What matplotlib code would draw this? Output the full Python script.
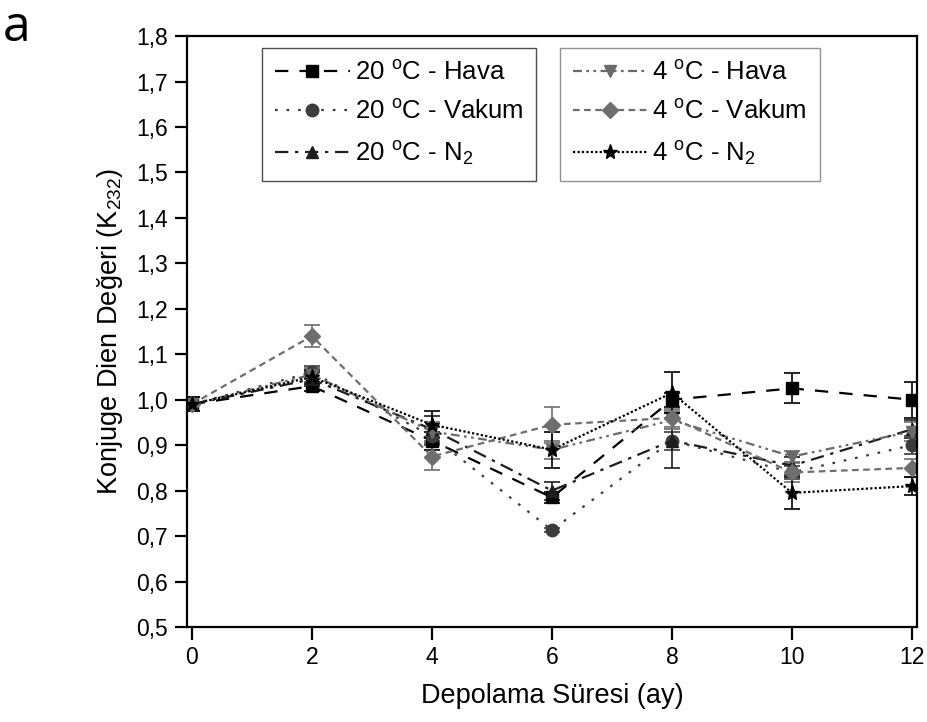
import numpy as np
import matplotlib.pyplot as plt
from matplotlib.lines import Line2D

plt.rcParams['font.family'] = ['Liberation Sans', 'DejaVu Sans']
plt.rcParams['mathtext.fontset'] = 'custom'
plt.rcParams['mathtext.rm'] = 'Liberation Sans'
plt.rcParams['mathtext.it'] = 'Liberation Sans'
plt.rcParams['mathtext.default'] = 'regular'

months = [0, 2, 4, 6, 8, 10, 12]

# 20 C series
h20 = [0.99, 1.03, 0.91, 0.785, 1.00, 1.025, 1.00]
h20_err = [0.015, 0.01, 0.02, 0.012, 0.015, 0.033, 0.04]
v20 = [0.99, 1.06, 0.92, 0.713, 0.91, 0.84, 0.90]
v20_err = [0.015, 0.015, 0.02, 0.005, 0.02, 0.015, 0.02]
n20 = [0.99, 1.045, 0.935, 0.80, 0.91, 0.855, 0.935]
n20_err = [0.015, 0.015, 0.03, 0.02, 0.06, 0.02, 0.02]

# 4 C series
h4 = [0.99, 1.055, 0.93, 0.89, 0.955, 0.875, 0.93]
h4_err = [0.015, 0.015, 0.02, 0.02, 0.02, 0.012, 0.02]
vk4 = [0.99, 1.14, 0.875, 0.945, 0.96, 0.84, 0.85]
vk4_err = [0.015, 0.025, 0.03, 0.04, 0.02, 0.02, 0.02]
n4 = [0.99, 1.05, 0.945, 0.89, 1.015, 0.795, 0.81]
n4_err = [0.015, 0.015, 0.03, 0.04, 0.045, 0.035, 0.02]

fig = plt.figure(figsize=(9.28, 7.22), dpi=100)
ax = fig.add_axes([0.2015, 0.1316, 0.7865, 0.8184])

handles = []
def series(y, e, label, color, ls, marker, ms=9):
    ax.errorbar(months, y, yerr=e, color=color, ls=ls, lw=1.6, marker=marker,
                ms=ms, mec=color, mfc=color, capsize=6, elinewidth=1.2,
                capthick=1.2)
    handles.append(Line2D([], [], color=color, ls=ls, lw=1.6, marker=marker,
                          ms=ms, mec=color, mfc=color, label=label))

deg = '$^{o}$C'
series(h20, h20_err, '20 ' + deg + ' - Hava', '#000000', (0, (6, 5)), 's', 8)
series(v20, v20_err, '20 ' + deg + ' - Vakum', '#3c3c3c', (0, (1.2, 4)), 'o')
series(n20, n20_err, '20 ' + deg + ' - N$_2$', '#1e1e1e', (0, (6, 3, 1.5, 3)), '^')
series(h4, h4_err, '4 ' + deg + ' - Hava', '#6a6a6a', (0, (4, 2, 1.2, 2, 1.2, 2)), 'v')
series(vk4, vk4_err, '4 ' + deg + ' - Vakum', '#6e6e6e', (0, (3, 2)), 'D', 8)
series(n4, n4_err, '4 ' + deg + ' - N$_2$', '#000000', (0, (1, 1)), '*', 11)

ax.set_xlim(-0.08, 12.08)
ax.set_ylim(0.5, 1.8)
ax.set_xticks(months)
yt = np.round(np.arange(0.5, 1.81, 0.1), 1)
ax.set_yticks(yt)
ax.set_yticklabels([('%.1f' % v).replace('.', ',') for v in yt])
ax.tick_params(labelsize=16.5, length=9, width=1.6, direction='out', pad=5)
for s in ax.spines.values():
    s.set_linewidth(1.6)

ax.set_xlabel('Depolama Süresi (ay)', fontsize=19.5, labelpad=10)
ax.set_ylabel('Konjuge Dien Değeri (K$_{232}$)', fontsize=19.5, labelpad=8)

kw = dict(fontsize=18.5, frameon=True, fancybox=False, handlelength=2.9,
          borderpad=0.5, labelspacing=0.6, handletextpad=0.2, borderaxespad=0)
leg1 = ax.legend(handles=handles[:3], loc='upper left', bbox_to_anchor=(0.103, 0.98), **kw)
leg1.get_frame().set_edgecolor('#222222')
leg1.get_frame().set_linewidth(1.0)
ax.add_artist(leg1)
leg2 = ax.legend(handles=handles[3:], loc='upper left', bbox_to_anchor=(0.511, 0.98), **kw)
leg2.get_frame().set_edgecolor('#777777')
leg2.get_frame().set_linewidth(1.0)

fig.text(0.003, 0.943, 'a', fontsize=36, va='baseline', family=['Open Sans', 'DejaVu Sans'])

fig.savefig('out.png', dpi=100)
